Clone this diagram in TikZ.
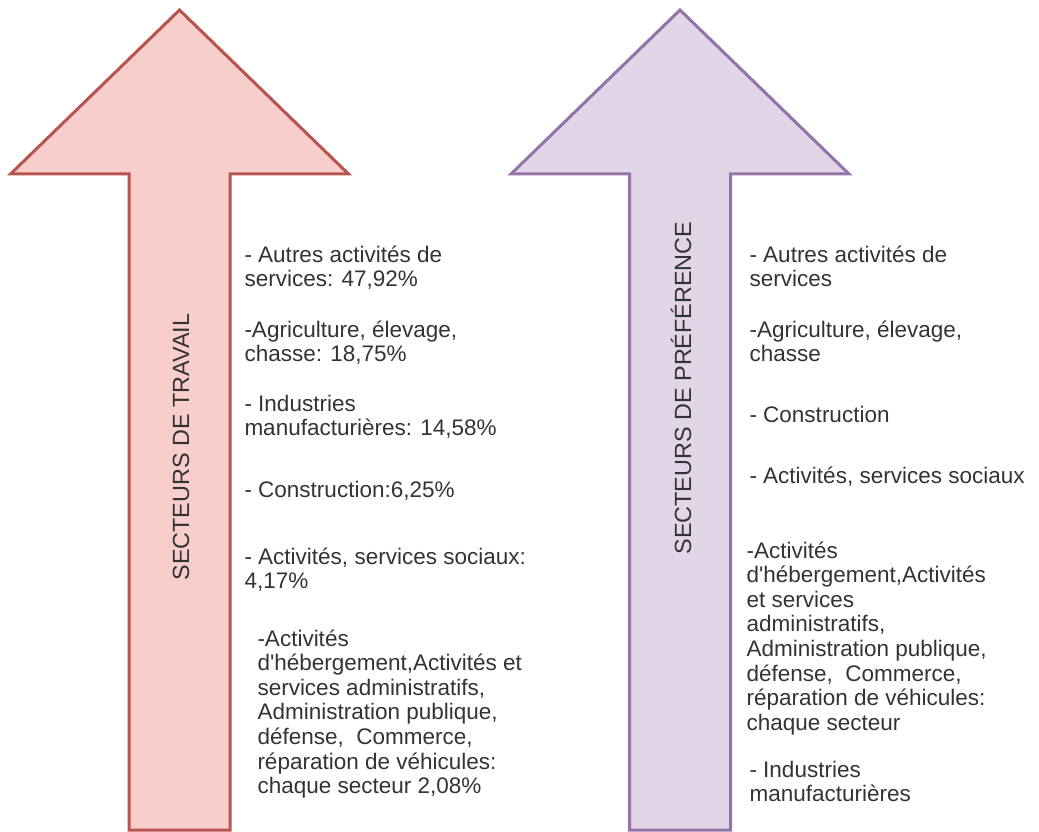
\documentclass[tikz,border=0pt]{standalone}
\usepackage{fontspec}
\setmainfont{Liberation Sans}[Ligatures=TeXOff]
\definecolor{redfill}{HTML}{F8CECC}
\definecolor{redline}{HTML}{B85450}
\definecolor{purplefill}{HTML}{E1D5E7}
\definecolor{purpleline}{HTML}{9673A6}
\definecolor{txtgray}{HTML}{333333}
\tikzset{
  sector/.style={anchor=base west, inner sep=0pt, align=left, text=txtgray,
    font=\fontsize{22.5}{24.6}\selectfont},
  sectortitle/.style={rotate=90, inner sep=0pt, text=txtgray,
    font=\fontsize{23.4}{25}\selectfont}
}

\begin{document}
\begin{tikzpicture}[x=1pt,y=-1pt,line width=3pt]
        \useasboundingbox (0,0) rectangle (1039,832);
        \foreach \c/\f/\d in {179.5/redfill/redline, 680/purplefill/purpleline}
          \filldraw[fill=\f,draw=\d] (\c,10) -- (\c+169,174) -- (\c+50.5,174) -- (\c+50.5,830)
            -- (\c-50.5,830) -- (\c-50.5,174) -- (\c-169,174) -- cycle;
        \node[sectortitle] (travail) at (181,447) {SECTEURS DE TRAVAIL};
        \node[sectortitle] (preference) at (681,388) {SECTEURS DE PRÉFÉRENCE};
        \node[sector] (t1) at (243,286.6) {- Autres activités de\\services: 47,92\%};
        \node[sector] (t2) at (243,361.6) {-Agriculture, élevage,\\chasse: 18,75\%};
        \node[sector] (t3) at (243,435.6) {- Industries\\manufacturières: 14,58\%};
        \node[sector] (t4) at (243,497) {- Construction:6,25\%};
        \node[sector] (t5) at (243,588.6) {- Activités, services sociaux:\\4,17\%};
        \node[sector] (t6) at (256,793.6) {-Activités\\d'hébergement,Activités et\\services administratifs,\\Administration publique,\\défense,\ \ Commerce,\\réparation de véhicules:\\chaque secteur 2,08\%};
        \node[sector] (p1) at (748,286.6) {- Autres activités de\\services};
        \node[sector] (p2) at (748,361.6) {-Agriculture, élevage,\\chasse};
        \node[sector] (p3) at (748,422) {- Construction};
        \node[sector] (p4) at (748,483) {- Activités, services sociaux};
        \node[sector] (p5) at (745,730.2) {-Activités\\d'hébergement,Activités\\et services\\administratifs,\\Administration publique,\\défense,\ \ Commerce,\\réparation de véhicules:\\chaque secteur};
        \node[sector] (p6) at (748,801.6) {- Industries\\manufacturières};
      \end{tikzpicture}
\end{document}
